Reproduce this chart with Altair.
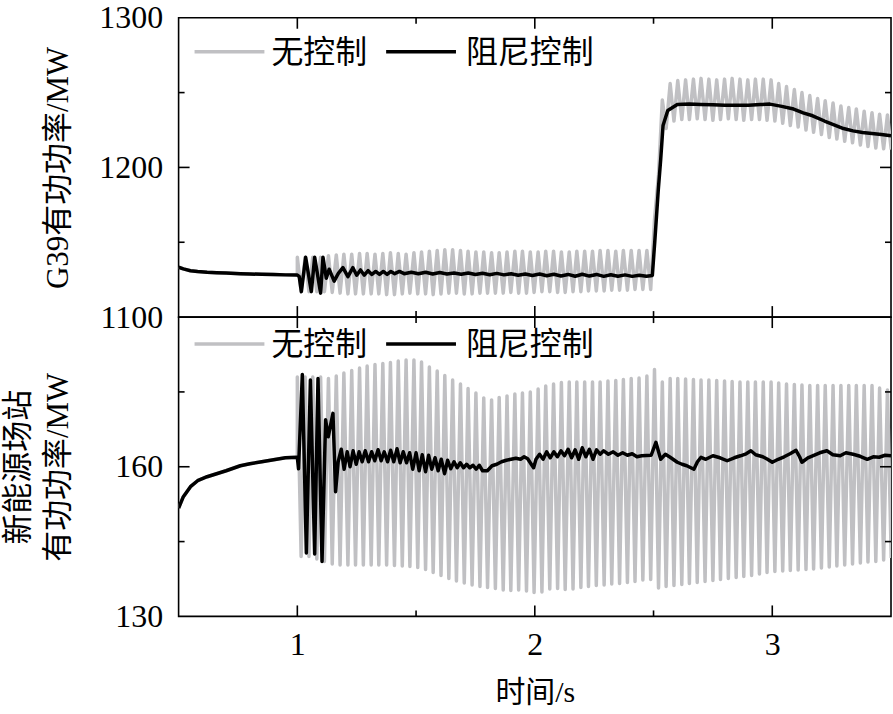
import altair as alt
import pandas as pd

SERIES = ["无控制", "阻尼控制"]
GRAY = "#c0c0c3"
BLACK = "#000000"
LATIN = "Liberation Serif"
CJK = "Liberation Serif, Noto Sans CJK SC"

# ---- x-axis ticks ----
x_labels = [1, 2, 3]
x_minor = [1.5, 2.5]

# ---- common pre-disturbance time axis (both cases identical before 1 s) ----
pre_t = [0.50, 0.52, 0.55, 0.58, 0.62, 0.66, 0.70, 0.76, 0.80, 0.85, 0.90, 0.95, 1.00]
top_pre = [1133.3, 1132.2, 1131.0, 1130.5, 1130.0, 1129.7, 1129.4, 1129.0, 1128.8, 1128.6, 1128.4, 1128.2, 1128.1]
bot_pre = [151.7, 154.0, 156.0, 157.2, 158.0, 158.6, 159.2, 160.2, 160.6, 161.0, 161.4, 161.8, 161.9]

# ---- uncontrolled case: oscillation peak / trough instants (s) ----
osc_t_hi = [1.000, 1.033, 1.065, 1.098, 1.131, 1.164, 1.196, 1.229, 1.262, 1.294,
            1.327, 1.360, 1.392, 1.425, 1.458, 1.491, 1.523, 1.556, 1.589, 1.621,
            1.654, 1.687, 1.719, 1.752, 1.785, 1.818, 1.850, 1.883, 1.916, 1.948,
            1.981, 2.014, 2.046, 2.079, 2.112, 2.145, 2.177, 2.210, 2.243, 2.275,
            2.308, 2.341, 2.373, 2.406, 2.439, 2.472, 2.504, 2.537, 2.570, 2.602,
            2.635, 2.668, 2.700, 2.733, 2.766, 2.799, 2.831, 2.864, 2.897, 2.929,
            2.962, 2.995, 3.027, 3.060, 3.093, 3.125, 3.158, 3.191, 3.223, 3.256,
            3.289, 3.322, 3.354, 3.387, 3.420, 3.452, 3.485]
osc_t_lo = [1.016, 1.049, 1.082, 1.114, 1.147, 1.180, 1.213, 1.245, 1.278, 1.311,
            1.343, 1.376, 1.409, 1.442, 1.474, 1.507, 1.540, 1.572, 1.605, 1.638,
            1.670, 1.703, 1.736, 1.769, 1.801, 1.834, 1.867, 1.899, 1.932, 1.965,
            1.997, 2.030, 2.063, 2.096, 2.128, 2.161, 2.194, 2.226, 2.259, 2.292,
            2.324, 2.357, 2.390, 2.422, 2.455, 2.488, 2.521, 2.553, 2.586, 2.619,
            2.651, 2.684, 2.717, 2.750, 2.782, 2.815, 2.848, 2.880, 2.913, 2.946,
            2.978, 3.011, 3.044, 3.076, 3.109, 3.142, 3.174, 3.207, 3.240, 3.272,
            3.305, 3.338, 3.371, 3.403, 3.436, 3.469, 3.501]

# G39 active power, uncontrolled (MW)
top_gray_hi = [1140, 1140, 1140, 1140, 1141, 1141.5, 1142, 1142, 1142.5, 1142.5,
               1142, 1142.5, 1143, 1142.5, 1142, 1143, 1143.5, 1144, 1144.5, 1145,
               1145, 1144.5, 1144, 1143.5, 1143.5, 1143, 1143, 1143.5, 1144, 1144,
               1143.5, 1143.5, 1144, 1144, 1143.5, 1143.5, 1144, 1144, 1144, 1144.5,
               1144.5, 1144, 1144.5, 1144.5, 1144.5, 1144.5, 1165, 1245, 1256, 1258,
               1258.5, 1259, 1259.5, 1259, 1258.5, 1259, 1259.5, 1259, 1258.5, 1259,
               1259, 1258.5, 1256, 1254, 1252, 1250, 1248, 1246, 1244.5, 1243,
               1241, 1240, 1239, 1237.5, 1236.5, 1235.5, 1235]
top_gray_lo = [1117, 1117, 1117, 1117, 1116.5, 1116, 1115.5, 1115.5, 1115.5, 1115.5,
               1115.5, 1115, 1115, 1115.5, 1116, 1115.5, 1115.5, 1115, 1115.5, 1116,
               1116, 1115.5, 1115.5, 1116, 1116, 1116, 1116, 1116.5, 1116, 1116,
               1116.5, 1117, 1117, 1116.5, 1116.5, 1117, 1117, 1117.5, 1117.5, 1117.5,
               1118, 1118, 1118, 1118.5, 1118.5, 1118.5, 1195, 1226, 1231, 1232,
               1232, 1232.5, 1232, 1231.5, 1232, 1232.5, 1232, 1231.5, 1232, 1232,
               1231.5, 1231, 1229.5, 1228, 1227, 1225, 1223.5, 1222, 1220, 1219,
               1217.5, 1216.5, 1215, 1214, 1213, 1212.5, 1212]

# renewable station active power, uncontrolled (MW)
bot_gray_hi = [178, 178, 178, 178, 177.7, 178.2, 178.8, 179.3, 179.8, 180.2,
               180.5, 180.7, 180.9, 181.2, 181.4, 181.4, 181, 180, 179.2, 178.3,
               177.4, 176.6, 175.7, 174.8, 173.8, 173.4, 173.9, 174.2, 174.6, 174.8,
               175, 175.6, 176.2, 176.6, 176.9, 177, 177, 177, 177, 177,
               177.2, 177.3, 177.5, 177.7, 177.8, 178.2, 179.5, 177, 177.7, 177.7,
               177.6, 177.5, 177.4, 177.4, 177.3, 177.2, 177.1, 177, 177, 177,
               177, 177, 176.8, 176.6, 176.5, 176.4, 176.3, 176.3, 176.3, 176.3,
               176.3, 176.3, 176.3, 176.3, 176.3, 175.8, 175.4]
bot_gray_lo = [142, 142, 141.5, 141, 140.5, 140.3, 140.3, 140.3, 140.3, 140.3,
               140.3, 140.3, 140.2, 140.1, 140, 139.8, 139.4, 138.8, 138.2, 137.6,
               137.1, 136.7, 136.3, 136, 135.8, 135.6, 135.3, 135.2, 135.3, 135.1,
               134.8, 134.9, 135.5, 135.6, 135.4, 135.5, 135.8, 136, 136.2, 136.3,
               136.5, 136.6, 136.8, 137, 137.3, 137.4, 135.7, 136, 136.2, 136.4,
               136.6, 136.8, 137, 137.2, 137.4, 137.6, 137.8, 138, 138.2, 138.5,
               138.8, 139, 139.1, 139.2, 139.3, 139.4, 139.5, 139.7, 139.9, 140.1,
               140.3, 140.5, 140.7, 140.9, 141, 141.3, 141.7]

# ---- damping control case ----
top_blk_t = [1.008, 1.017, 1.035, 1.059, 1.073, 1.098, 1.108, 1.122, 1.134, 1.155,
             1.172, 1.192, 1.213, 1.234, 1.250, 1.266, 1.282, 1.298, 1.314, 1.330,
             1.346, 1.362, 1.378, 1.394, 1.410, 1.430, 1.450, 1.480, 1.510, 1.540,
             1.570, 1.600, 1.630, 1.660, 1.690, 1.720, 1.750, 1.780, 1.810, 1.840,
             1.870, 1.900, 1.930, 1.960, 1.990, 2.020, 2.050, 2.080, 2.110, 2.140,
             2.170, 2.200, 2.230, 2.260, 2.290, 2.320, 2.350, 2.380, 2.410, 2.440,
             2.470, 2.495, 2.505, 2.520, 2.530, 2.540, 2.560, 2.600, 2.650, 2.700,
             2.750, 2.800, 2.850, 2.900, 2.950, 2.990, 3.040, 3.090, 3.130, 3.170,
             3.220, 3.260, 3.300, 3.340, 3.380, 3.420, 3.460, 3.500]
top_blk_v = [1127, 1117, 1140, 1117, 1140, 1116, 1140, 1126, 1132, 1124,
             1129, 1133, 1127, 1133, 1128, 1131.5, 1128, 1131, 1128.5, 1130.5,
             1128.5, 1130.5, 1128.5, 1130.5, 1129, 1130.5, 1129, 1130, 1129, 1130,
             1128.8, 1129.8, 1128.8, 1129.5, 1128.6, 1129.4, 1128.5, 1129.3, 1128.3, 1129.2,
             1128.2, 1129, 1128, 1128.8, 1127.8, 1128.8, 1127.6, 1128.6, 1127.5, 1128.5,
             1127.3, 1128.6, 1127.4, 1128.5, 1127.2, 1128.3, 1127.3, 1128.2, 1127.2, 1128,
             1127.3, 1127.8, 1150, 1185, 1205, 1228, 1238, 1242, 1242.3, 1242,
             1241.8, 1241.6, 1241.5, 1241.6, 1242, 1242.3, 1240.8, 1239, 1236.5, 1234.5,
             1231, 1228.5, 1226, 1224.4, 1223.3, 1222.7, 1222, 1221.2]

bot_blk_t = [1.005, 1.021, 1.038, 1.055, 1.073, 1.087, 1.104, 1.119, 1.130, 1.150,
             1.161, 1.172, 1.185, 1.197, 1.210, 1.222, 1.235, 1.248, 1.260, 1.273,
             1.286, 1.300, 1.313, 1.326, 1.340, 1.353, 1.366, 1.380, 1.393, 1.406,
             1.420, 1.433, 1.446, 1.460, 1.473, 1.486, 1.500, 1.513, 1.526, 1.540,
             1.553, 1.566, 1.580, 1.593, 1.606, 1.620, 1.633, 1.646, 1.660, 1.673,
             1.686, 1.700, 1.713, 1.726, 1.740, 1.753, 1.766, 1.780, 1.800, 1.820,
             1.840, 1.860, 1.880, 1.900, 1.920, 1.940, 1.955, 1.970, 1.985, 1.995,
             2.005, 2.020, 2.035, 2.050, 2.065, 2.080, 2.095, 2.110, 2.125, 2.140,
             2.155, 2.170, 2.185, 2.200, 2.215, 2.230, 2.245, 2.260, 2.275, 2.290,
             2.310, 2.330, 2.350, 2.370, 2.390, 2.410, 2.430, 2.450, 2.490, 2.510,
             2.530, 2.550, 2.570, 2.600, 2.620, 2.640, 2.670, 2.685, 2.700, 2.720,
             2.750, 2.780, 2.810, 2.840, 2.866, 2.890, 2.910, 2.930, 2.960, 2.980,
             3.000, 3.025, 3.050, 3.075, 3.100, 3.115, 3.125, 3.150, 3.170, 3.200,
             3.230, 3.255, 3.286, 3.310, 3.340, 3.370, 3.400, 3.425, 3.450, 3.475,
             3.500]
bot_blk_v = [159.6, 178.5, 142.7, 177.4, 142.5, 177.7, 141.0, 169.4, 166.0, 170.7,
             155.0, 161.0, 163.5, 159.5, 163.0, 160.0, 163.2, 160.5, 163.0, 161.0,
             163.2, 161.0, 163.0, 161.2, 163.4, 161.2, 163.0, 161.0, 163.3, 161.0,
             163.6, 160.8, 163.0, 160.8, 162.8, 159.5, 162.8, 159.2, 162.4, 159.0,
             162.3, 159.5, 161.8, 159.2, 161.5, 158.6, 161.3, 159.6, 161.0, 159.8,
             160.8, 159.8, 160.5, 159.8, 160.3, 159.5, 160.3, 159.2, 159.2, 160.2,
             160.5, 161.0, 161.3, 161.5, 161.7, 161.5, 162.0, 161.6, 160.5, 159.8,
             161.5, 162.5, 161.5, 163.0, 161.8, 163.0, 162.0, 163.2, 162.2, 163.5,
             161.8, 163.4, 161.5, 163.8, 162.0, 163.5, 161.5, 163.4, 162.5, 163.2,
             162.5, 163.0, 162.3, 162.8, 162.3, 162.6, 162.0, 162.2, 162.3, 164.9,
             161.5, 162.5, 161.9, 160.9, 160.5, 160.2, 159.5, 161.0, 161.9, 161.5,
             162.2, 161.8, 161.2, 161.8, 162.2, 162.6, 163.2, 162.4, 162.0, 161.5,
             160.9, 161.5, 162.0, 162.6, 163.3, 162.0, 160.9, 161.8, 162.2, 162.8,
             163.2, 162.4, 162.2, 162.8, 162.5, 162.1, 161.5, 162.0, 161.9, 162.3,
             162.2]

for a, b in [(osc_t_hi, top_gray_hi), (osc_t_hi, top_gray_lo), (osc_t_hi, bot_gray_hi),
             (osc_t_hi, bot_gray_lo), (osc_t_hi, osc_t_lo), (top_blk_t, top_blk_v),
             (bot_blk_t, bot_blk_v), (pre_t, top_pre), (pre_t, bot_pre)]:
    assert len(a) == len(b), (len(a), len(b))


def gray_frame(pre_v, hi, lo):
    rows = [(t, v) for t, v in zip(pre_t, pre_v)]
    for th, vh, tl, vl in zip(osc_t_hi, hi, osc_t_lo, lo):
        rows.append((th, vh))
        rows.append((tl, vl))
    df = pd.DataFrame(rows, columns=["t", "p"])
    df["series"] = SERIES[0]
    return df


def black_frame(pre_v, ts, vs):
    df = pd.DataFrame({"t": pre_t + ts, "p": pre_v + vs})
    df["series"] = SERIES[1]
    return df


W, H = 714, 300
MAJ, MIN = 11, 6


def panel(gray_df, black_df, ydom, y_labels, y_major, y_minor, ytitle, title_x,
          show_x, legend_y):
    xs = alt.Scale(domain=[0.5, 3.5], nice=False, zero=False)
    ys = alt.Scale(domain=ydom, nice=False, zero=False)
    if show_x:
        xaxis = alt.Axis(values=x_labels, format="d", ticks=False, domain=False, grid=False,
                         labelFont=LATIN, labelFontSize=32, labelColor="black",
                         labelPadding=13, labelFlush=False, title="时间/s",
                         titleFont=CJK, titleFontSize=30, titleFontWeight="normal",
                         titleColor="black", titlePadding=17)
    else:
        xaxis = alt.Axis(values=x_labels, format="d", ticks=False, domain=False, grid=False,
                         labels=False, title=None)
    yaxis = alt.Axis(values=y_labels, format="d", ticks=False, domain=False, grid=False,
                     labelFont=LATIN, labelFontSize=32, labelColor="black",
                     labelPadding=16, labelFlush=False, title=ytitle,
                     titleFont=CJK, titleFontSize=31, titleFontWeight="normal",
                     titleColor="black", titleAngle=270, titleBaseline="bottom",
                     titleAlign="center", titleX=title_x, titleY=H / 2,
                     titleLineHeight=40)

    gray = alt.Chart(gray_df).mark_line(
        strokeWidth=3.5, strokeJoin="round", clip=True, color=GRAY
    ).encode(
        x=alt.X("t:Q", scale=xs, axis=xaxis),
        y=alt.Y("p:Q", scale=ys, axis=yaxis),
    )
    black = alt.Chart(black_df).mark_line(
        strokeWidth=3.5, strokeJoin="round", clip=True, color=BLACK
    ).encode(
        x=alt.X("t:Q", scale=xs),
        y=alt.Y("p:Q", scale=ys),
    )

    def xticks(vals, length):
        d = pd.DataFrame({"v": vals})
        base = alt.Chart(d).mark_rule(color="black", strokeWidth=1.6)
        return [
            base.encode(x=alt.X("v:Q", scale=xs), y=alt.value(H), y2=alt.value(H - length)),
            base.encode(x=alt.X("v:Q", scale=xs), y=alt.value(0), y2=alt.value(length)),
        ]

    def yticks(vals, length):
        d = pd.DataFrame({"v": vals})
        base = alt.Chart(d).mark_rule(color="black", strokeWidth=1.6)
        return [
            base.encode(y=alt.Y("v:Q", scale=ys), x=alt.value(0), x2=alt.value(length)),
            base.encode(y=alt.Y("v:Q", scale=ys), x=alt.value(W), x2=alt.value(W - length)),
        ]

    # legend (key line + label for each case)
    leg_df = pd.DataFrame({"series": SERIES})
    leg = []
    for name, col, x0, tx in [(SERIES[0], GRAY, 16, 93), (SERIES[1], BLACK, 208, 288)]:
        one = alt.Chart(leg_df).transform_filter(alt.datum.series == name)
        leg.append(one.mark_rule(strokeWidth=3.5, color=col).encode(
            x=alt.value(x0), x2=alt.value(x0 + 70), y=alt.value(legend_y)))
        leg.append(one.mark_text(align="left", baseline="middle", font=CJK,
                                 fontSize=32, color="black", dy=1).encode(
            x=alt.value(tx), y=alt.value(legend_y), text="series:N"))

    layers = [gray, black] + xticks(x_labels, MAJ) + xticks(x_minor, MIN) \
        + yticks(y_major, MAJ) + yticks(y_minor, MIN) + leg
    return alt.layer(*layers).properties(width=W, height=H)


top = panel(gray_frame(top_pre, top_gray_hi, top_gray_lo),
            black_frame(top_pre, top_blk_t, top_blk_v),
            [1100, 1300], [1100, 1200, 1300], [1200], [1150, 1250],
            "G39有功功率/MW", -104, False, 34)
bottom = panel(gray_frame(bot_pre, bot_gray_hi, bot_gray_lo),
               black_frame(bot_pre, bot_blk_t, bot_blk_v),
               [130, 190], [130, 160], [160], [145, 175],
               ["新能源场站", "有功功率/MW"], -144, True, 27)

chart = alt.vconcat(top, bottom, spacing=0, bounds="flush").properties(
    padding={"left": 2, "top": 0, "right": 0, "bottom": 0},
    background="white",
).configure_view(stroke="black", strokeWidth=1.6).configure_axis(
    labelFont=LATIN, titleFont=CJK
)

chart.save("out.html", embed_options={"renderer": "svg", "actions": False})
